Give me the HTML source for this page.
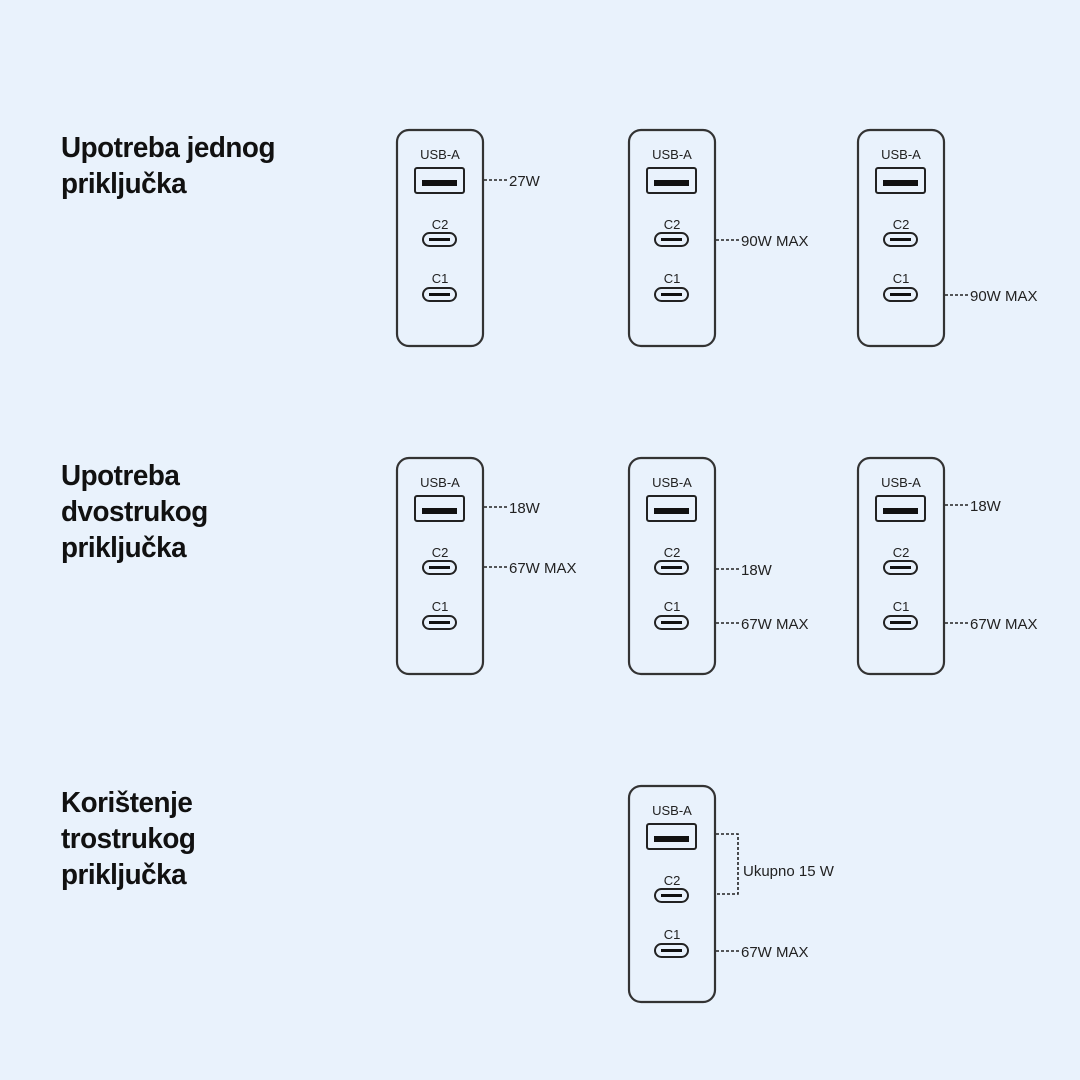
<!DOCTYPE html>
<html><head><meta charset="utf-8"><style>
body{margin:0;width:1080px;height:1080px;background:#e9f2fc;font-family:"Liberation Sans",sans-serif;position:relative;overflow:hidden;color:#111}
.h{position:absolute;left:61px;font-weight:bold;font-size:29px;line-height:36px;letter-spacing:-0.5px;transform:scaleX(0.96);transform-origin:left}
</style></head><body>
<div class="h" style="top:130px">Upotreba jednog<br>priključka</div>
<div class="h" style="top:458px">Upotreba<br>dvostrukog<br>priključka</div>
<div class="h" style="top:785px">Korištenje<br>trostrukog<br>priključka</div>
<svg width="1080" height="1080" style="position:absolute;left:0;top:0" font-family="Liberation Sans, sans-serif">
<defs>
<g id="card">
<rect x="0" y="0" width="86" height="216" rx="12" fill="none" stroke="#333" stroke-width="2.2"/>
<text x="43" y="29" font-size="13" text-anchor="middle" fill="#222">USB-A</text>
<rect x="18" y="38" width="49" height="25" rx="2" fill="none" stroke="#222" stroke-width="2"/>
<rect x="25" y="50" width="35" height="6" fill="#111"/>
<text x="43" y="99" font-size="13" text-anchor="middle" fill="#222">C2</text>
<rect x="26" y="103" width="33" height="13" rx="6.5" fill="none" stroke="#222" stroke-width="2"/>
<line x1="32" y1="109.5" x2="53" y2="109.5" stroke="#111" stroke-width="3"/>
<text x="43" y="153" font-size="13" text-anchor="middle" fill="#222">C1</text>
<rect x="26" y="158" width="33" height="13" rx="6.5" fill="none" stroke="#222" stroke-width="2"/>
<line x1="32" y1="164.5" x2="53" y2="164.5" stroke="#111" stroke-width="3"/>
</g>
</defs>
<g stroke="#222" stroke-width="1.6" stroke-dasharray="3,2" fill="none">
<line x1="484" y1="180" x2="507" y2="180"/>
<line x1="716" y1="240" x2="739" y2="240"/>
<line x1="945" y1="295" x2="968" y2="295"/>
<line x1="484" y1="507" x2="507" y2="507"/>
<line x1="484" y1="567" x2="507" y2="567"/>
<line x1="716" y1="569" x2="739" y2="569"/>
<line x1="716" y1="623" x2="739" y2="623"/>
<line x1="945" y1="505" x2="968" y2="505"/>
<line x1="945" y1="623" x2="968" y2="623"/>
<polyline points="716,834 738,834 738,894 716,894"/>
<line x1="716" y1="951" x2="739" y2="951"/>
</g>
<g font-size="15" fill="#222">
<text x="509" y="186">27W</text>
<text x="741" y="246">90W MAX</text>
<text x="970" y="301">90W MAX</text>
<text x="509" y="513">18W</text>
<text x="509" y="573">67W MAX</text>
<text x="741" y="575">18W</text>
<text x="741" y="629">67W MAX</text>
<text x="970" y="511">18W</text>
<text x="970" y="629">67W MAX</text>
<text x="743" y="876">Ukupno 15 W</text>
<text x="741" y="957">67W MAX</text>
</g>
<use href="#card" x="397" y="130"/>
<use href="#card" x="629" y="130"/>
<use href="#card" x="858" y="130"/>
<use href="#card" x="397" y="458"/>
<use href="#card" x="629" y="458"/>
<use href="#card" x="858" y="458"/>
<use href="#card" x="629" y="786"/>
</svg>
</body></html>
